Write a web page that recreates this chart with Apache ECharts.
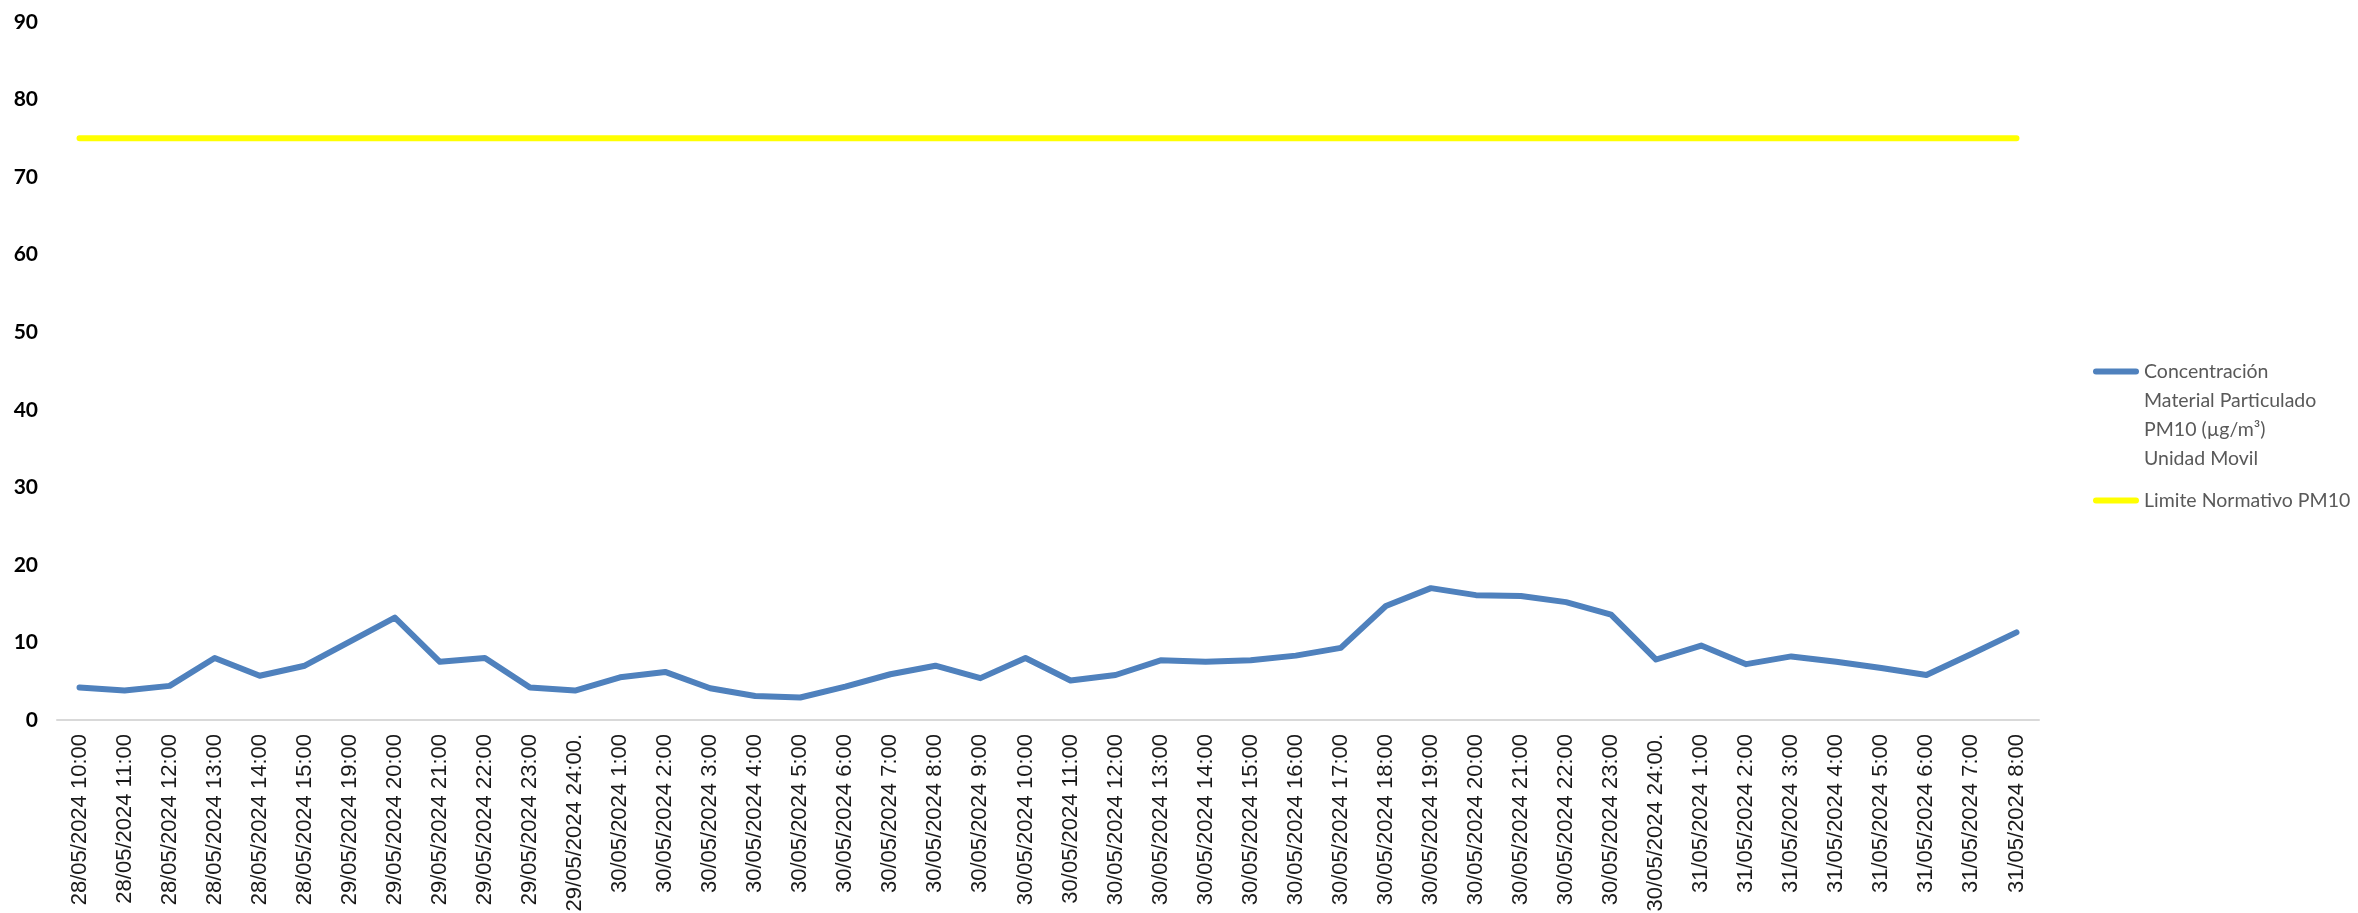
<!DOCTYPE html>
<html>
<head>
<meta charset="utf-8">
<script src="https://cdn.jsdelivr.net/npm/echarts@6/dist/echarts.min.js"></script>
<style>
html,body{margin:0;padding:0;background:#fff;}
#chart{width:2358px;height:913px;}
</style>
</head>
<body>
<div id="chart"></div>
<script>
const categories = [
  "28/05/2024 10:00","28/05/2024 11:00","28/05/2024 12:00","28/05/2024 13:00","28/05/2024 14:00","28/05/2024 15:00",
  "29/05/2024 19:00","29/05/2024 20:00","29/05/2024 21:00","29/05/2024 22:00","29/05/2024 23:00","29/05/2024 24:00.",
  "30/05/2024 1:00","30/05/2024 2:00","30/05/2024 3:00","30/05/2024 4:00","30/05/2024 5:00","30/05/2024 6:00",
  "30/05/2024 7:00","30/05/2024 8:00","30/05/2024 9:00","30/05/2024 10:00","30/05/2024 11:00","30/05/2024 12:00",
  "30/05/2024 13:00","30/05/2024 14:00","30/05/2024 15:00","30/05/2024 16:00","30/05/2024 17:00","30/05/2024 18:00",
  "30/05/2024 19:00","30/05/2024 20:00","30/05/2024 21:00","30/05/2024 22:00","30/05/2024 23:00","30/05/2024 24:00.",
  "31/05/2024 1:00","31/05/2024 2:00","31/05/2024 3:00","31/05/2024 4:00","31/05/2024 5:00","31/05/2024 6:00",
  "31/05/2024 7:00","31/05/2024 8:00"
];
const pm10Values = [
  4.2, 3.8, 4.4, 8.0, 5.7, 7.0,
  10.1, 13.2, 7.5, 8.0, 4.2, 3.8,
  5.5, 6.2, 4.1, 3.1, 2.9, 4.3,
  5.9, 7.0, 5.4, 8.0, 5.1, 5.8,
  7.7, 7.5, 7.7, 8.3, 9.3, 14.7,
  17.0, 16.1, 16.0, 15.2, 13.6, 7.8,
  9.6, 7.2, 8.2, 7.5, 6.7, 5.8,
  8.5, 11.3
];
const limitValues = [
  75, 75, 75, 75, 75, 75, 75, 75, 75, 75, 75,
  75, 75, 75, 75, 75, 75, 75, 75, 75, 75, 75,
  75, 75, 75, 75, 75, 75, 75, 75, 75, 75, 75,
  75, 75, 75, 75, 75, 75, 75, 75, 75, 75, 75
];
const yTicks = [0, 10, 20, 30, 40, 50, 60, 70, 80, 90];
const seriesNames = ["Concentración Material Particulado PM10 (µg/m³) Unidad Movil", "Limite Normativo PM10"];
const legendLines = {
  "Concentración Material Particulado PM10 (µg/m³) Unidad Movil": ["Concentración", "Material Particulado", "PM10 (µg/m³)", "Unidad Movil"],
  "Limite Normativo PM10": ["Limite Normativo PM10"]
};
const BLUE = '#4f81bd';
const YELLOW = '#ffff00';

function legendFormatter(name) {
  const lines = legendLines[name];
  const iconKey = name === seriesNames[0] ? 'ib' : 'iy';
  return lines.map(function (l, i) {
    return (i === 0 ? '{' + iconKey + '|}' : '{sp|}') + '{t|' + l + '}';
  }).join('\n');
}

const chart = echarts.init(document.getElementById('chart'), null, {renderer: 'canvas'});
chart.setOption({
  backgroundColor: '#ffffff',
  animation: false,
  grid: {left: 57, right: 319, top: 22, bottom: 193, containLabel: false, outerBoundsMode: 'none'},
  legend: {
    orient: 'vertical',
    left: 2082,
    top: 352,
    itemWidth: 1,
    itemHeight: 1,
    icon: 'rect',
    itemGap: 13,
    selectedMode: false,
    formatter: legendFormatter,
    itemStyle: {color: 'rgba(0,0,0,0)', opacity: 0},
    lineStyle: {opacity: 0},
    textStyle: {
      fontFamily: 'Lato', fontSize: 19.5, color: '#595959', lineHeight: 29,
      rich: {
        ib: {width: 46, height: 6, backgroundColor: BLUE, borderRadius: 3, verticalAlign: 'middle'},
        iy: {width: 46, height: 6, backgroundColor: YELLOW, borderRadius: 3, verticalAlign: 'middle'},
        sp: {width: 46, height: 6},
        t: {fontFamily: 'Lato', fontSize: 19.5, color: '#595959', lineHeight: 29, padding: [0, 0, 0, 5], verticalAlign: 'middle'}
      }
    },
    data: [seriesNames[0], seriesNames[1]]
  },
  xAxis: {
    type: 'category',
    data: categories,
    boundaryGap: true,
    axisLine: {show: true, lineStyle: {color: '#d9d9d9', width: 2}},
    axisTick: {show: false},
    splitLine: {show: false},
    axisLabel: {
      interval: 0,
      rotate: 90,
      margin: 14,
      fontFamily: 'Liberation Sans',
      fontSize: 22,
      color: '#1a1a1a'
    }
  },
  yAxis: {
    type: 'value',
    min: yTicks[0],
    max: yTicks[yTicks.length - 1],
    interval: 10,
    axisLine: {show: false},
    axisTick: {show: false},
    splitLine: {show: false},
    axisLabel: {
      margin: 19,
      fontFamily: 'Lato',
      fontWeight: 'bold',
      fontSize: 21,
      color: '#000000'
    }
  },
  series: [
    {
      name: seriesNames[0],
      type: 'line',
      data: pm10Values,
      symbol: 'none',
      smooth: false,
      lineStyle: {color: BLUE, width: 6, cap: 'round', join: 'round'},
      itemStyle: {color: BLUE}
    },
    {
      name: seriesNames[1],
      type: 'line',
      data: limitValues,
      symbol: 'none',
      lineStyle: {color: YELLOW, width: 6, cap: 'round'},
      itemStyle: {color: YELLOW}
    }
  ]
});
</script>
</body>
</html>
